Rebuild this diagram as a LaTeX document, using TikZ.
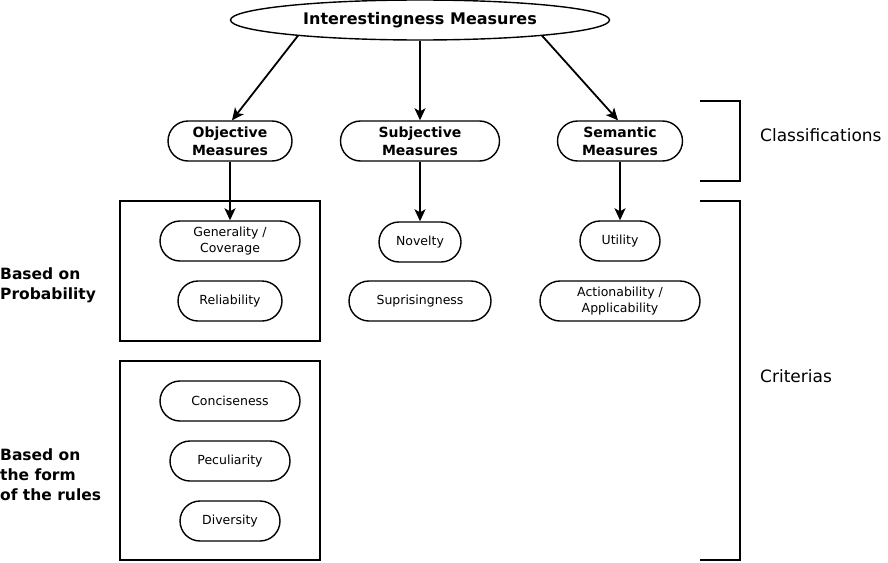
\documentclass[tikz,border=0pt]{standalone}
\usepackage{fontspec}
\setmainfont{DejaVu Sans}
\usetikzlibrary{shapes.geometric,arrows.meta}
\begin{document}
\begin{tikzpicture}[x=1pt,y=-1pt,
  pill/.style={draw,line width=1.4pt,rectangle,rounded corners=20pt,minimum height=40pt,inner sep=0pt,align=center},
  headpill/.style={pill,font=\bfseries\fontsize{14}{18}\selectfont},
  critpill/.style={pill,font=\fontsize{12.5}{16}\selectfont},
  conn/.style={line width=1.8pt,-{Stealth[length=12pt,width=11pt,inset=3pt]}},
  frame/.style={line width=1.8pt},
  sidelabel/.style={font=\bfseries\fontsize{15.5}{20}\selectfont,align=left,anchor=west,inner sep=0pt},
  rightlabel/.style={font=\fontsize{17}{20}\selectfont,anchor=west,inner sep=0pt}
]
\useasboundingbox (0,0) rectangle (888,562);
\fill[white] (0,0) rectangle (888,562);

\node[draw,ellipse,line width=1.4pt,minimum width=379pt,minimum height=40pt,inner sep=0pt,
  font=\bfseries\fontsize{16}{20}\selectfont] (top) at (420,20) {Interestingness Measures};
\coordinate (tl) at (298.3,35.3);
\coordinate (tr) at (541.7,35.3);

\node[headpill,minimum width=124pt] (obj) at (230,141) {Objective\\Measures};
\node[headpill,minimum width=159pt] (sub) at (420,141) {Subjective\\Measures};
\node[headpill,minimum width=125pt] (sem) at (620,141) {Semantic\\Measures};

\draw[frame] (120,201) rectangle (320,341);
\draw[frame] (120,361) rectangle (320,560);

\node[critpill,minimum width=140pt] (gen) at (230,241) {Generality /\\Coverage};
\node[critpill,minimum width=104pt] (rel) at (230,301) {Reliability};
\node[critpill,minimum width=82pt] (nov) at (420,242) {Novelty};
\node[critpill,minimum width=142pt] (sup) at (420,301) {Suprisingness};
\node[critpill,minimum width=80pt] (uti) at (620,241) {Utility};
\node[critpill,minimum width=160pt] (act) at (620,301) {Actionability /\\Applicability};
\node[critpill,minimum width=140pt] (con) at (230,401) {Conciseness};
\node[critpill,minimum width=120pt] (pec) at (230,461) {Peculiarity};
\node[critpill,minimum width=100pt] (div) at (230,521) {Diversity};

\draw[conn] (tl) -- ([xshift=2pt]obj.north);
\draw[conn] (top.south) -- (sub.north);
\draw[conn] (tr) -- ([xshift=-2pt]sem.north);
\draw[conn] (obj.south) -- (gen.north);
\draw[conn] (sub.south) -- (nov.north);
\draw[conn] (sem.south) -- (uti.north);

\node[sidelabel] (lp) at (0,285) {Based on\\Probability};
\node[sidelabel] (lf) at (0,475) {Based on\\the form\\of the rules};

\draw[frame] (700,101) -- (740,101) -- (740,181) -- (700,181);
\draw[frame] (700,201) -- (740,201) -- (740,560) -- (700,560);
\node[rightlabel] (cls) at (760,135) {Classifications};
\node[rightlabel] (cri) at (760,376) {Criterias};
\end{tikzpicture}
\end{document}
